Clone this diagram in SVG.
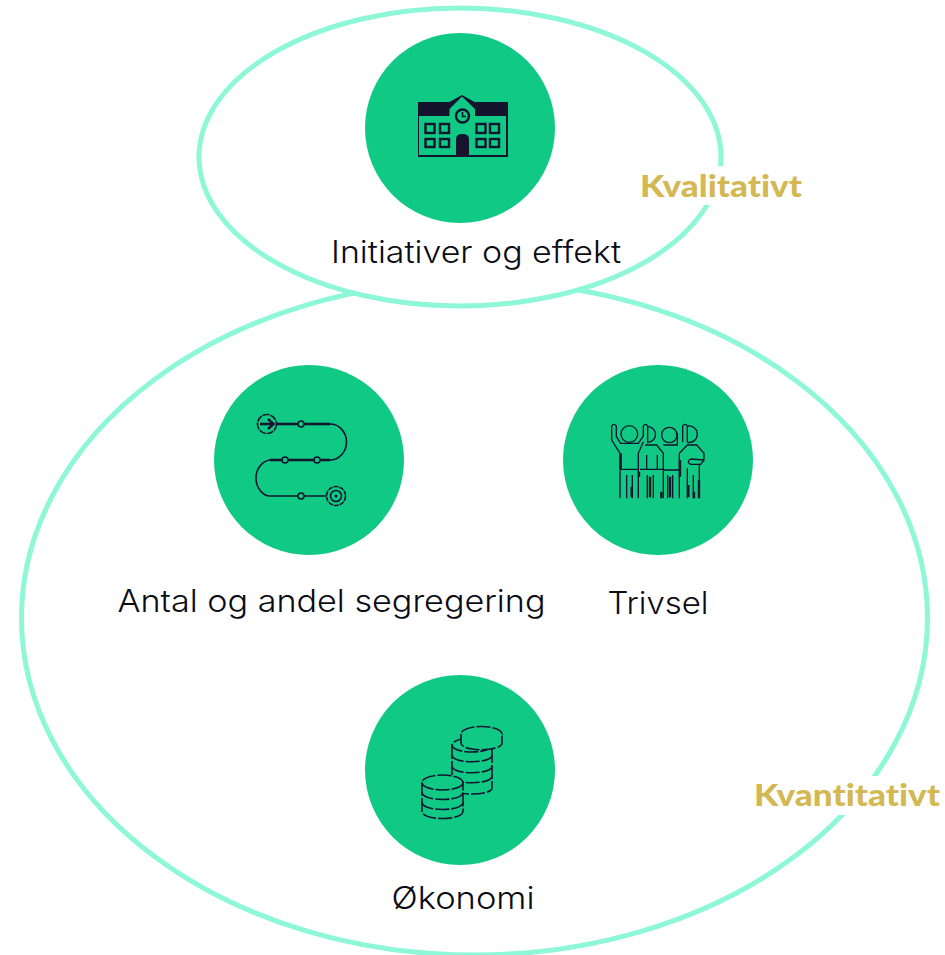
<svg xmlns="http://www.w3.org/2000/svg" width="945" height="955" viewBox="0 0 945 955">
<style>
.ring{fill:#fff;stroke:#8df7d6;stroke-width:5}
.disc{fill:#0fc985}
.lbl{font-family:"Inter","Lato","Liberation Sans",sans-serif;font-size:31px;font-weight:300;fill:#0b0b14;text-anchor:middle}
.tag{font-family:"Lato","Liberation Sans",sans-serif;font-size:31px;font-weight:900;fill:#d4b852;font-variant-ligatures:none}
.ink{fill:none;stroke:#14142e;stroke-width:1.6}
.thick{fill:none;stroke:#14142e;stroke-width:2.4}
.dark{fill:#14142e}
.hole{fill:#0fc985;stroke:#14142e;stroke-width:1.6}
.fig{fill:none;stroke:#14142e;stroke-width:4}
.figb{fill:none;stroke:#14142e;stroke-width:7}
</style>
<g id="ring-kvantitativt"><ellipse class="ring" cx="474.500" cy="618" rx="453" ry="337"/></g>
<g id="ring-kvalitativt"><ellipse class="ring" cx="460" cy="157" rx="261" ry="149"/></g>
<g id="label-kvalitativt"><rect x="638" y="166" width="168" height="39" fill="#fff"/><text class="tag" x="640" y="197" textLength="162" lengthAdjust="spacingAndGlyphs">Kvalitativt</text></g>
<g id="label-kvantitativt"><rect x="752" y="776" width="193" height="39" fill="#fff"/><text class="tag" x="754" y="806" textLength="186" lengthAdjust="spacingAndGlyphs">Kvantitativt</text></g>
<g id="node-initiativer">
<circle class="disc" cx="460" cy="128" r="95"/>
<path class="dark" d="M418 102H449.500L462 95L474.500 102H508V157H418Z"/>
<path class="disc" d="M419 116H449.500V109L462 96.500L475 109V116H506V155H419Z"/>
<path class="dark" d="M456 156V139Q456 134 462.500 134Q469 134 469 139V156Z"/>
<circle class="thick" cx="462.500" cy="116" r="6.500"/><path class="ink" d="M462.500 112V116.500H466"/>
<g class="thick"><rect x="425.500" y="124" width="9" height="9"/><rect x="440" y="124" width="9" height="9"/><rect x="476.500" y="124" width="9" height="9"/><rect x="490" y="124" width="9" height="9"/><rect x="425.500" y="139" width="9" height="8"/><rect x="440" y="139" width="9" height="8"/><rect x="476.500" y="139" width="9" height="8"/><rect x="490" y="139" width="9" height="8"/></g>
<text class="lbl" x="476" y="262.500" textLength="290" lengthAdjust="spacingAndGlyphs">Initiativer og effekt</text>
</g>
<g id="node-antal">
<circle class="disc" cx="309" cy="460" r="95"/>
<path class="thick" d="M277 424H330"/>
<path class="ink" d="M330 424C340 424 346.500 433 346.500 442C346.500 452 339 460 330 460"/>
<path class="thick" d="M330 460H270"/>
<path class="ink" d="M270 460C262 461 256 469 256 478C256 488 263 496 270 496H326"/>
<circle class="ink" cx="267" cy="424" r="9.500" stroke-dasharray="7 1"/><path class="thick" d="M260 424H273M268 419L273.500 424L268 429"/>
<circle class="hole" cx="301" cy="424" r="3"/><circle class="hole" cx="285" cy="460" r="3"/><circle class="hole" cx="317" cy="460" r="3"/><circle class="hole" cx="301" cy="496" r="3"/>
<circle class="ink" cx="336" cy="496" r="9.500" stroke-dasharray="5 1"/><circle class="ink" cx="336" cy="496" r="5.500"/><circle class="dark" cx="336" cy="496" r="1.500"/>
<text class="lbl" x="331.500" y="611.500" textLength="428" lengthAdjust="spacingAndGlyphs">Antal og andel segregering</text>
</g>
<g id="node-trivsel">
<circle class="disc" cx="658" cy="460" r="95"/>
<g transform="translate(600 410) scale(.3333)">
<g class="fig">
<path d="M35 90V48Q41 38 49 48V80L62 100H115L130 78V48Q136 38 143 48V100"/>
<circle cx="88" cy="72" r="25"/>
<path d="M143 50A23 23 0 1 1 143 97"/>
<circle cx="208" cy="75" r="23"/>
<path d="M248 97V48Q254 38 262 48V97M262 48A25 25 0 1 1 262 97"/>
<path d="M35 90L60 130M130 95L115 130V265M190 105H232V70M135 105H170L190 130V265"/>
<path d="M60 130V265M60 178H115M80 195V265M97 195V265M140 135V178M172 135V178M120 178H190M142 195V265M160 195V265"/>
<path d="M190 180H240M203 195V265M218 195V265M238 130L262 105H290L312 130V150L272 147Q258 155 272 163H302L312 150M238 130V265M262 175V265M280 195V265M298 165V265"/>
</g>
<path class="figb" d="M62 130V178M95 230V262M117 185V200M150 200V262M184 245V265M210 200V262M240 150V200M265 225V262M282 245V265M297 210V265"/>
</g>
<text class="lbl" x="658" y="613.500" textLength="101" lengthAdjust="spacingAndGlyphs">Trivsel</text>
</g>
<g id="node-okonomi">
<circle class="disc" cx="460" cy="770" r="95"/>
<g class="ink" stroke-dasharray="14 2">
<path d="M452 745V788C452 796 492 796 492 788V745"/>
<ellipse cx="472" cy="745" rx="20" ry="7"/>
<path d="M452 755C452 764 492 764 492 755M452 766C452 775 492 775 492 766M452 776C452 785 492 785 492 776"/>
<ellipse class="hole" cx="481.500" cy="734" rx="20.500" ry="7.500"/>
<path class="hole" d="M461 734V743C461 752 502 752 502 743V734"/>
<path class="hole" d="M422 782V811C422 821 463 821 463 811V782"/>
<ellipse class="hole" cx="442.500" cy="782.500" rx="20.500" ry="7.500"/>
<path d="M422 792C422 802 463 802 463 792M422 802C422 812 463 812 463 802"/>
</g>
<text class="lbl" x="463" y="908.500" textLength="143" lengthAdjust="spacingAndGlyphs">Økonomi</text>
</g>
</svg>
